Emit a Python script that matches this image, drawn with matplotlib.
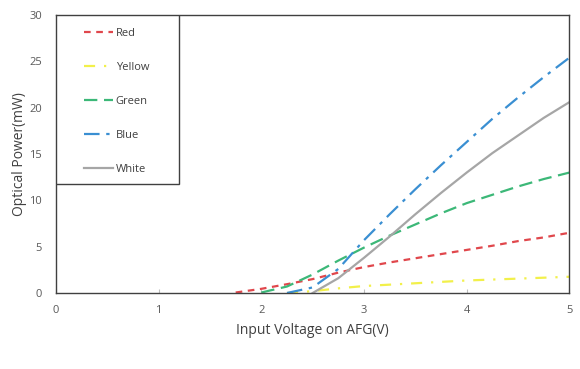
import matplotlib.pyplot as plt
from matplotlib.patches import Rectangle

nan = float('nan')

# input voltage samples (V)
voltage = [0, 0.5, 1, 1.5, 1.75, 2, 2.25, 2.5, 2.75, 3, 3.25, 3.5, 3.75, 4, 4.25, 4.5, 4.75, 5]

# optical power (mW); nan = curve not drawn yet (sits on the axis)
red = [nan, nan, nan, nan, 0.05, 0.45, 0.95, 1.5, 2.2, 2.8, 3.3, 3.75, 4.2, 4.65, 5.1, 5.6, 6.0, 6.5]
yellow = [nan, nan, nan, nan, nan, nan, 0.0, 0.2, 0.5, 0.75, 0.9, 1.05, 1.2, 1.35, 1.45, 1.55, 1.65, 1.75]
green = [nan, nan, nan, nan, nan, 0.05, 0.7, 2.0, 3.5, 4.9, 6.2, 7.4, 8.6, 9.7, 10.6, 11.5, 12.3, 13.0]
blue = [nan, nan, nan, nan, nan, nan, 0.0, 0.6, 2.6, 5.7, 8.5, 11.2, 13.8, 16.3, 18.8, 21.1, 23.3, 25.4]
white = [nan, nan, nan, nan, nan, nan, nan, 0.0, 1.6, 3.8, 6.1, 8.5, 10.8, 13.0, 15.1, 17.0, 18.9, 20.6]

plt.rcParams['font.family'] = ['Open Sans', 'DejaVu Sans']

fig = plt.figure(figsize=(5.8, 3.69), dpi=100)
ax = fig.add_axes([0.0966, 0.206, 0.885, 0.753])

ax.plot(voltage, red, color='#e0474c', lw=1.6, dashes=(3, 2.5), label='Red')
ax.plot(voltage, yellow, color='#f2f04a', lw=1.6, dashes=(5, 4, 1, 4), label='Yellow')
ax.plot(voltage, green, color='#3cb878', lw=1.6, dashes=(6, 3), label='Green')
ax.plot(voltage, blue, color='#3a8fd2', lw=1.6, dashes=(7, 3, 1.5, 3), label='Blue')
ax.plot(voltage, white, color='#a6a6a6', lw=1.6, label='White')

ax.set_xlim(0, 5)
ax.set_ylim(0, 30)
ax.set_xticks([0, 1, 2, 3, 4, 5])
ax.set_yticks([0, 5, 10, 15, 20, 25, 30])
ax.tick_params(axis='x', direction='in', length=3, color='#bfbfbf', labelsize=8, labelcolor='#595959', pad=9)
ax.tick_params(axis='y', length=0, labelsize=8, labelcolor='#595959', pad=10)
for s in ax.spines.values():
    s.set_color('#404040')
    s.set_linewidth(1.0)

ax.set_xlabel('Input Voltage on AFG(V)', fontsize=10, color='#404040', labelpad=5)
ax.set_ylabel('Optical Power(mW)', fontsize=10, color='#404040', labelpad=2)

# legend frame drawn separately so its size matches the original box
ax.add_patch(Rectangle((0, 1 - 0.608), 0.24, 0.608, transform=ax.transAxes,
                       facecolor='white', edgecolor='#404040', lw=1.0, zorder=4))
leg = ax.legend(loc='upper left', bbox_to_anchor=(0.0546, 0.955), frameon=False,
                fontsize=8, labelspacing=2.07, handlelength=2.6, handletextpad=0.25,
                borderpad=0, borderaxespad=0)
leg.set_zorder(5)
for t in leg.get_texts():
    t.set_color('#404040')

fig.savefig('out.png', dpi=100)
